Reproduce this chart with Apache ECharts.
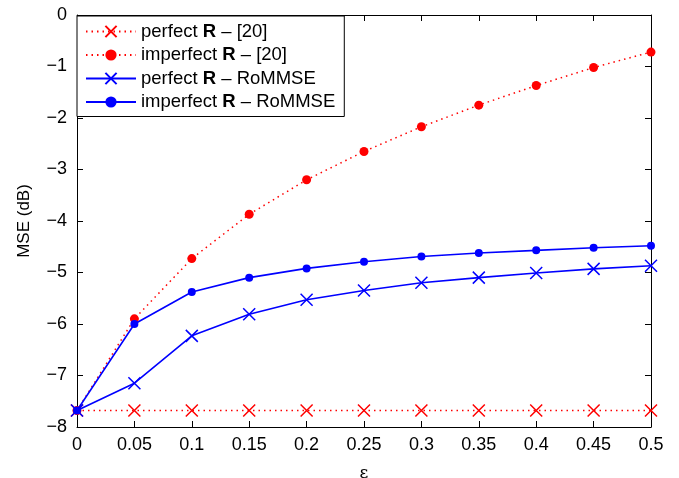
<!DOCTYPE html>
<html><head><meta charset="utf-8">
<script src="https://cdn.jsdelivr.net/npm/echarts@6/dist/echarts.min.js"></script>
<style>html,body{margin:0;padding:0;background:#fff}#c{width:679px;height:478px}</style>
</head><body><div id="c"></div>
<script>
const epsilon = [0, 0.05, 0.1, 0.15, 0.2, 0.25, 0.3, 0.35, 0.4, 0.45, 0.5];
const perfectRef = [-7.68, -7.68, -7.68, -7.68, -7.68, -7.68, -7.68, -7.68, -7.68, -7.68, -7.68];
const imperfectRef = [-7.68, -5.9, -4.73, -3.87, -3.2, -2.65, -2.17, -1.75, -1.37, -1.02, -0.72];
const perfectRo = [-7.68, -7.15, -6.23, -5.81, -5.53, -5.35, -5.2, -5.1, -5.01, -4.93, -4.87];
const imperfectRo = [-7.68, -6.0, -5.38, -5.1, -4.92, -4.79, -4.69, -4.62, -4.57, -4.52, -4.48];
const seriesNames = ['perfect R – [20]', 'imperfect R – [20]', 'perfect R – RoMMSE', 'imperfect R – RoMMSE'];
const xTicks = ['0','0.05','0.1','0.15','0.2','0.25','0.3','0.35','0.4','0.45','0.5'];

const FONT = 'Liberation Sans, Arial, sans-serif';
const xPath = 'path://M0,0L10,10M10,0L0,10';
const pair = arr => epsilon.map((e, i) => [e, arr[i]]);

const chart = echarts.init(document.getElementById('c'));
const axisCommon = {
  axisLine: { show: true, onZero: false, lineStyle: { color: '#000', width: 1 } },
  axisTick: { show: true, inside: true, length: 6, lineStyle: { color: '#000' } },
  splitLine: { show: false }
};
chart.setOption({
  animation: false,
  backgroundColor: '#fff',
  grid: { left: 77, right: 28, top: 15, bottom: 51, containLabel: false, outerBoundsMode: 'none' },
  legend: {
    orient: 'vertical', left: 77, top: 16,
    backgroundColor: '#fff', borderColor: '#000', borderWidth: 1,
    padding: [6, 9, 5, 8], itemGap: 4.5, itemWidth: 50, itemHeight: 14,
    data: seriesNames,
    formatter: n => {
      const parts = n.split(' R ');
      return parts[0] + ' {b|R} ' + parts[1];
    },
    textStyle: { fontFamily: FONT, fontSize: 18.5, lineHeight: 18, color: '#000',
      rich: { b: { fontFamily: FONT, fontSize: 18.5, lineHeight: 18, fontWeight: 'bold', color: '#000' } } }
  },
  xAxis: [{
    type: 'value', min: 0, max: 0.5, interval: 0.05, position: 'bottom',
    ...axisCommon,
    axisLabel: { margin: 9, fontFamily: FONT, fontSize: 18, color: '#000',
      formatter: v => xTicks[Math.round(v / 0.05)] },
    name: 'ε', nameLocation: 'middle', nameGap: 38,
    nameTextStyle: { fontFamily: 'DejaVu Serif, serif', fontSize: 17, color: '#000' }
  }, {
    type: 'value', min: 0, max: 0.5, interval: 0.05, position: 'top',
    ...axisCommon, axisLabel: { show: false }
  }],
  yAxis: [{
    type: 'value', min: -8, max: 0, interval: 1, position: 'left',
    ...axisCommon,
    axisLabel: { margin: 10, fontFamily: FONT, fontSize: 18, color: '#000',
      formatter: v => String(v).replace('-', '−') },
    name: 'MSE (dB)', nameLocation: 'middle', nameGap: 44, nameRotate: 90,
    nameTextStyle: { fontFamily: FONT, fontSize: 17, color: '#000' }
  }, {
    type: 'value', min: -8, max: 0, interval: 1, position: 'right',
    ...axisCommon, axisLabel: { show: false }
  }],
  series: [
    { name: seriesNames[0], type: 'line', data: pair(perfectRef),
      symbol: xPath, symbolSize: 12,
      lineStyle: { color: '#ff0000', width: 1.5, type: [1.5, 4] },
      itemStyle: { color: 'rgba(0,0,0,0)', borderColor: '#ff0000', borderWidth: 1.5 }, z: 2 },
    { name: seriesNames[1], type: 'line', data: pair(imperfectRef),
      symbol: 'circle', symbolSize: 9,
      lineStyle: { color: '#ff0000', width: 1.5, type: [1.5, 4] },
      itemStyle: { color: '#ff0000', borderWidth: 0 }, z: 2 },
    { name: seriesNames[2], type: 'line', data: pair(perfectRo),
      symbol: xPath, symbolSize: 12,
      lineStyle: { color: '#0000ff', width: 1.6, type: 'solid' },
      itemStyle: { color: 'rgba(0,0,0,0)', borderColor: '#0000ff', borderWidth: 1.5 }, z: 3 },
    { name: seriesNames[3], type: 'line', data: pair(imperfectRo),
      symbol: 'circle', symbolSize: 8,
      lineStyle: { color: '#0000ff', width: 1.6, type: 'solid' },
      itemStyle: { color: '#0000ff', borderWidth: 0 }, z: 3 }
  ]
});
</script></body></html>
